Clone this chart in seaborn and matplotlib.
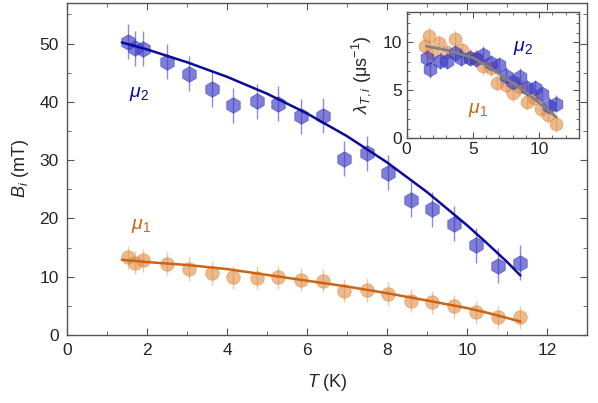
import numpy as np
import pandas as pd
import matplotlib
matplotlib.use('Agg')
import matplotlib.pyplot as plt
import seaborn as sns
from matplotlib.ticker import MultipleLocator

# main panel: B_i vs T
T_pts = [1.52, 1.70, 1.91, 2.49, 3.06, 3.63, 4.16, 4.74, 5.28, 5.84, 6.39,
         6.93, 7.49, 8.03, 8.59, 9.13, 9.68, 10.23, 10.77, 11.33]
B_mu2 = [50.3, 49.2, 49.1, 46.9, 44.8, 42.2, 39.4, 40.1, 39.7, 37.5, 37.6,
         30.2, 31.2, 27.8, 23.2, 21.6, 19.1, 15.4, 11.9, 12.4]
B_mu2_err = [3.0] * 20
B_mu1 = [13.3, 12.4, 12.8, 12.2, 11.3, 10.6, 9.9, 9.85, 9.9, 9.45, 9.3,
         7.6, 7.7, 7.0, 5.85, 5.6, 4.9, 3.85, 3.0, 3.0]
B_mu1_err = [2.0] * 20

# fit curves
T_fit2 = [1.37, 2, 3, 4, 5, 6, 7, 8, 9, 10, 10.5, 11, 11.33]
B_mu2_fit = [50.2, 49.0, 46.8, 44.3, 41.4, 38.0, 34.1, 29.6, 24.5, 18.8, 15.7, 12.5, 10.2]
T_fit1 = [1.37, 2, 3, 4, 5, 6, 7, 8, 9, 10, 10.5, 11, 11.33]
B_mu1_fit = [12.9, 12.5, 12.0, 11.3, 10.3, 9.3, 8.3, 7.15, 5.9, 4.6, 3.8, 2.9, 2.3]

# inset: lambda_T,i vs T
t_mu2 = [1.55, 1.75, 2.5, 3.05, 3.62, 4.12, 4.8, 5.25, 5.8, 6.37, 6.95,
         7.5, 8.0, 8.55, 9.12, 9.7, 10.2, 10.75, 11.3]
lam_mu2 = [8.4, 7.2, 8.1, 8.1, 8.9, 8.4, 8.4, 8.3, 8.7, 7.8, 7.6,
           6.5, 5.9, 6.4, 5.2, 5.2, 4.6, 3.4, 3.6]
t_mu1 = [1.37, 1.7, 1.95, 2.45, 3.05, 3.62, 4.2, 4.75, 5.25, 5.8, 6.4,
         6.85, 7.5, 8.0, 8.55, 9.1, 9.65, 10.15, 10.7, 11.3]
lam_mu1 = [9.65, 10.7, 8.9, 9.9, 9.0, 10.4, 9.2, 8.4, 8.4, 7.5, 7.3,
           5.8, 5.6, 4.7, 5.3, 3.8, 4.2, 3.1, 2.45, 1.5]
lam_err = 0.9
t_fit = [1.5, 3, 4, 5, 6, 7, 8, 9, 10, 11.3]
lam_fit = [9.6, 9.2, 8.8, 8.4, 7.6, 6.7, 5.75, 4.8, 3.7, 2.2]

sns.set_style('ticks')
plt.rcParams['font.family'] = ['Liberation Sans', 'DejaVu Sans']
plt.rcParams['mathtext.fontset'] = 'custom'
plt.rcParams['mathtext.rm'] = 'Liberation Sans'
plt.rcParams['mathtext.it'] = 'Liberation Sans:italic'
plt.rcParams['axes.edgecolor'] = '#555555'
plt.rcParams['axes.linewidth'] = 1.0

blue = '#3a3ac4'
blue_line = '#0a0a9c'
blue_err = '#8c8ce0'
orange = '#de8c44'
orange_line = '#cc6414'
orange_err = '#f2c79c'

fig = plt.figure(figsize=(5.98, 4.03), dpi=100)
ax = fig.add_axes([0.112, 0.169, 0.870, 0.824])

main_df = pd.DataFrame({'T': T_pts, 'mu2': B_mu2, 'mu1': B_mu1})
fit2_df = pd.DataFrame({'T': T_fit2, 'B': B_mu2_fit})
fit1_df = pd.DataFrame({'T': T_fit1, 'B': B_mu1_fit})

ax.errorbar(T_pts, B_mu2, yerr=B_mu2_err, fmt='none', ecolor=blue_err, elinewidth=1, zorder=1)
ax.errorbar(T_pts, B_mu1, yerr=B_mu1_err, fmt='none', ecolor=orange_err, elinewidth=1, zorder=1)
sns.scatterplot(data=main_df, x='T', y='mu2', marker='h', s=125, color=blue, alpha=0.65,
                edgecolor=blue, linewidth=0.6, ax=ax, zorder=2)
sns.scatterplot(data=main_df, x='T', y='mu1', marker='o', s=95, color=orange, alpha=0.6,
                edgecolor=orange, linewidth=0.6, ax=ax, zorder=2)
sns.lineplot(data=fit2_df, x='T', y='B', color=blue_line, lw=1.8, ax=ax, zorder=3)
sns.lineplot(data=fit1_df, x='T', y='B', color=orange_line, lw=1.8, ax=ax, zorder=3)

ax.set_xlim(0, 13)
ax.set_ylim(0, 57)
ax.xaxis.set_major_locator(MultipleLocator(2))
ax.xaxis.set_minor_locator(MultipleLocator(1))
ax.yaxis.set_major_locator(MultipleLocator(10))
ax.yaxis.set_minor_locator(MultipleLocator(5))
ax.tick_params(which='both', direction='in', top=True, right=True, color='#555555',
               labelsize=12.5, pad=6)
ax.tick_params(which='major', length=5)
ax.tick_params(which='minor', length=3)
ax.set_xlabel('$T$ (K)', fontsize=13, labelpad=10)
ax.set_ylabel('$B_i$ (mT)', fontsize=13, labelpad=6)
ax.text(1.8, 41.3, r'$\mu_2$', color=blue_line, fontsize=14, ha='center', va='center')
ax.text(1.85, 18.7, r'$\mu_1$', color=orange_line, fontsize=14, ha='center', va='center')

# inset
axin = fig.add_axes([0.680, 0.657, 0.288, 0.314])
axin.set_facecolor('white')
in2 = pd.DataFrame({'T': t_mu2, 'lam': lam_mu2})
in1 = pd.DataFrame({'T': t_mu1, 'lam': lam_mu1})
infit = pd.DataFrame({'T': t_fit, 'lam': lam_fit})

axin.errorbar(t_mu1, lam_mu1, yerr=lam_err, fmt='none', ecolor=orange_err, elinewidth=1, zorder=1)
axin.errorbar(t_mu2, lam_mu2, yerr=lam_err, fmt='none', ecolor=blue_err, elinewidth=1, zorder=1)
sns.scatterplot(data=in1, x='T', y='lam', marker='o', s=85, color=orange, alpha=0.6,
                edgecolor=orange, linewidth=0.6, ax=axin, zorder=2)
sns.scatterplot(data=in2, x='T', y='lam', marker='h', s=110, color=blue, alpha=0.65,
                edgecolor=blue, linewidth=0.6, ax=axin, zorder=2)
sns.lineplot(data=infit, x='T', y='lam', color='#808080', lw=2, ax=axin, zorder=3)

axin.set_xlim(0, 13)
axin.set_ylim(0, 13.2)
axin.xaxis.set_major_locator(MultipleLocator(5))
axin.xaxis.set_minor_locator(MultipleLocator(1))
axin.yaxis.set_major_locator(MultipleLocator(5))
axin.yaxis.set_minor_locator(MultipleLocator(1))
axin.tick_params(which='both', direction='in', top=True, right=True, color='#555555',
                 labelsize=12.5, pad=3)
axin.tick_params(which='major', length=4)
axin.tick_params(which='minor', length=2.5)
axin.set_xlabel('')
axin.set_ylabel(r'$\lambda_{T,i}$ (μs$^{-1}$)', fontsize=13, labelpad=7)
axin.text(8.8, 9.4, r'$\mu_2$', color=blue_line, fontsize=14, ha='center', va='center')
axin.text(5.4, 2.9, r'$\mu_1$', color=orange_line, fontsize=14, ha='center', va='center')

fig.savefig('out.png', dpi=100)
